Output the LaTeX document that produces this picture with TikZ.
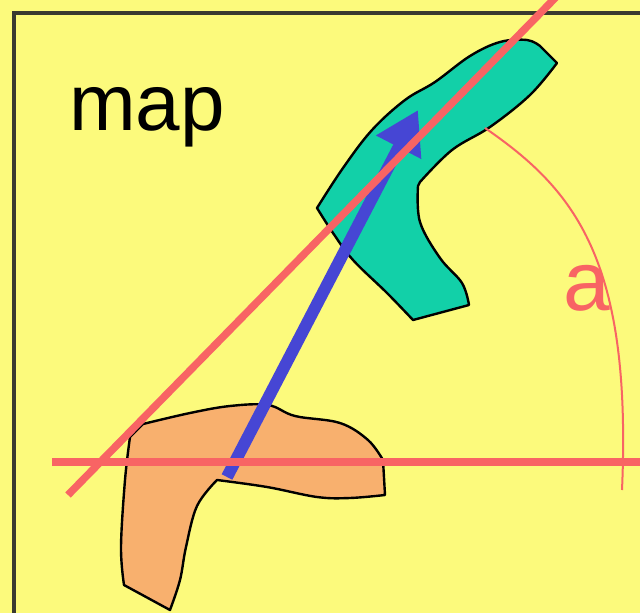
\documentclass[tikz,border=0pt]{standalone}
\usepackage{fontspec}
\setmainfont{Liberation Sans}
\usepackage{xcolor}
\definecolor{bg}{HTML}{FCFA7C}
\definecolor{teal2}{HTML}{12D0A8}
\definecolor{orng}{HTML}{F8B06E}
\definecolor{redl}{HTML}{F86464}
\definecolor{blu}{HTML}{4646D4}
\definecolor{frm}{HTML}{3A3A30}
\usetikzlibrary{arrows.meta}
\tikzset{
  blob/.style={draw=black,line width=2.4pt,line join=round},
  rline/.style={draw=redl,line width=7.5pt},
  thin/.style={draw=redl,line width=2pt},
  txt/.style={font=\fontsize{80}{80}\selectfont,inner sep=0pt,anchor=base west},
}
\begin{document}
\begin{tikzpicture}[x=1pt,y=-1pt]
\fill[bg] (0,0) rectangle (640,613);
\useasboundingbox (0,0) rectangle (640,613);
% frame
\draw[frm,line width=3.2pt] (14,620) -- (14,13) -- (650,13);
% the two regions
\draw[blob,fill=orng] plot[smooth,tension=0.6] coordinates {(143,424) (190,413) (230,406) (268,405) (295,416) (340,423) (368,440) (383,460)}
  -- (385,495)
  -- plot[smooth,tension=0.6] coordinates {(385,495) (350,498) (317,497) (267,487) (217,480)}
  -- plot[smooth,tension=0.6] coordinates {(217,480) (197,506) (186,547) (180,580) (170,610)}
  -- plot[smooth,tension=0.6] coordinates {(124,585) (121,547) (125,480) (130,437)}
  -- cycle;
\draw[blob,fill=teal2] plot[smooth,tension=0.6] coordinates {(317,208) (343,168) (372,130) (405,100) (435,82) (470,56) (500,42) (527,40) (540,46)}
  -- (557,63)
  -- plot[smooth,tension=0.6] coordinates {(557,63) (530,95) (490,127) (452,150) (420,182)}
  -- plot[smooth,tension=0.6] coordinates {(418,186) (420,222) (440,258) (462,283) (469,305)}
  -- plot[smooth,tension=0.6] coordinates {(413,320) (387,293) (353,260) (333,233) (317,208)}
  -- cycle;
% move vector
\coordinate (v0) at (227,477);
\coordinate (v1) at (418,110);
\draw[blu,line width=12pt,-{Triangle[length=42pt,width=48pt]}] (v0) -- (v1);
% axes of the angle
\coordinate (h0) at (52,462);
\coordinate (h1) at (650,462);
\coordinate (d0) at (68,495);
\coordinate (d1) at (560,-7);
\draw[rline] (h0) -- (h1);
\draw[rline] (d0) -- (d1);
% angle arc
\coordinate (c0) at (485,128);
\coordinate (c1) at (622,490);
\draw[thin] (c0) .. controls (575,190) and (632,260) .. (c1);
\node[txt] (map) at (69,130) {map};
\node[txt,text=redl,font=\fontsize{84}{84}\selectfont] (ang) at (563,310) {a};
\end{tikzpicture}
\end{document}
